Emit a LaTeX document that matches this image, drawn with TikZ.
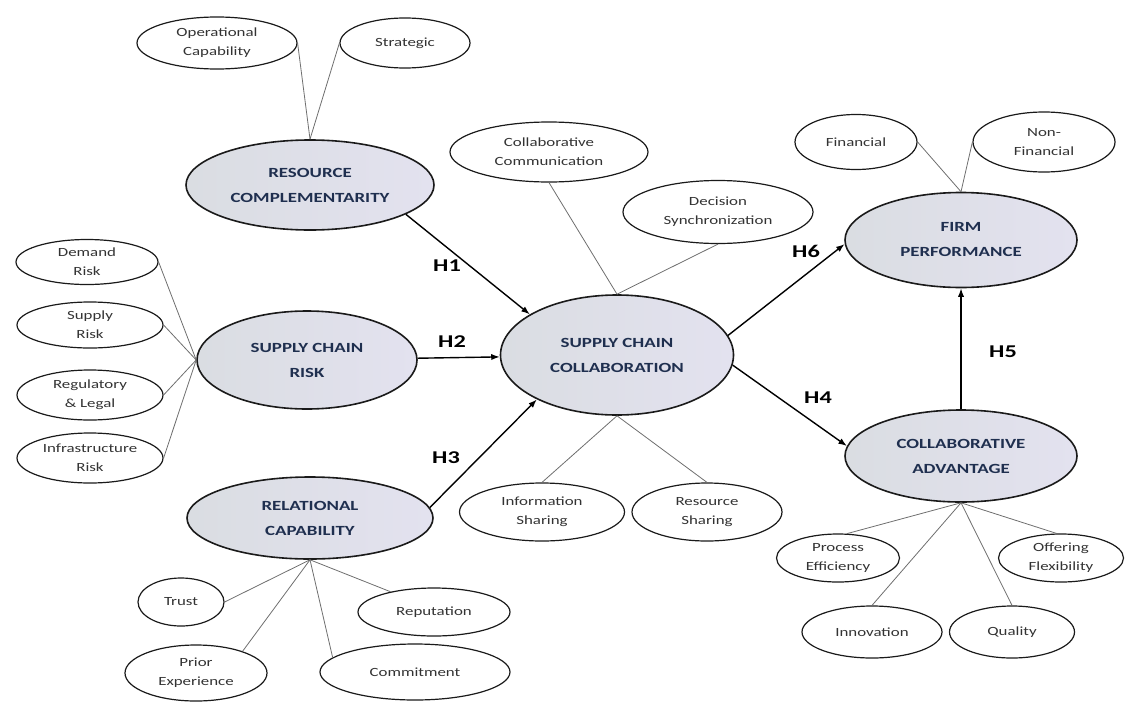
\documentclass[tikz,border=0pt]{standalone}
\usepackage{fontspec}
\setmainfont{Carlito}[FakeStretch=1.35]
\usepackage{tikz}
\usetikzlibrary{shapes.geometric,arrows.meta}
\definecolor{MainFill}{HTML}{DCE6F2}
\definecolor{FillL}{HTML}{D9D9DB}
\definecolor{FillR}{HTML}{E6E0EE}
\definecolor{MainText}{HTML}{1F2F4F}
\definecolor{Rim}{HTML}{1A1A1A}
\definecolor{Leg}{HTML}{6E6E6E}

\begin{document}
\begin{tikzpicture}[x=1pt,y=-1pt,
  main/.style={ellipse,draw=Rim,line width=1.6pt,left color=FillL!70!MainFill,middle color=MainFill,
               right color=FillR!70!MainFill,inner sep=0pt,align=center,
               font=\fontsize{14}{25}\selectfont\bfseries,text=MainText},
  item/.style={ellipse,draw=Rim,line width=1.2pt,fill=white,inner sep=0pt,
               align=center,font=\fontsize{12.5}{19}\selectfont,text=black!80},
  hyp/.style={-{Latex[length=3mm,width=2.2mm]},line width=1.4pt},
  leg/.style={line width=.8pt,draw=Leg},
  hlab/.style={font=\fontsize{18}{18}\selectfont\bfseries}]
\useasboundingbox (0,0) rectangle (1126,704);

% constructs
\node[main,minimum width=248pt,minimum height=90pt]  (rc)   at (310,185) {RESOURCE\\COMPLEMENTARITY};
\node[main,minimum width=220pt,minimum height=98pt]  (risk) at (307,360) {SUPPLY CHAIN\\RISK};
\node[main,minimum width=246pt,minimum height=82pt]  (rel)  at (310,518) {RELATIONAL\\CAPABILITY};
\node[main,minimum width=233pt,minimum height=120pt] (scc)  at (617,355) {SUPPLY CHAIN\\COLLABORATION};
\node[main,minimum width=232pt,minimum height=95pt]  (fp)   at (961,240) {FIRM\\PERFORMANCE};
\node[main,minimum width=232pt,minimum height=92pt]  (ca)   at (961,456) {COLLABORATIVE\\ADVANTAGE};

% indicators
\node[item,minimum width=160pt,minimum height=52pt] (opc)  at (217,43)  {Operational\\Capability};
\node[item,minimum width=130pt,minimum height=50pt] (stra) at (405,43)  {Strategic};
\node[item,minimum width=142pt,minimum height=45pt] (dem)  at (87,262)  {Demand\\Risk};
\node[item,minimum width=146pt,minimum height=46pt] (sup)  at (90,325)  {Supply\\Risk};
\node[item,minimum width=146pt,minimum height=50pt] (reg)  at (90,395)  {Regulatory\\\& Legal};
\node[item,minimum width=146pt,minimum height=50pt] (infr) at (90,458)  {Infrastructure\\Risk};
\node[item,minimum width=86pt,minimum height=48pt]  (tru)  at (181,602) {Trust};
\node[item,minimum width=152pt,minimum height=48pt] (rep)  at (434,612) {Reputation};
\node[item,minimum width=142pt,minimum height=56pt] (prx)  at (196,673) {Prior\\Experience};
\node[item,minimum width=190pt,minimum height=56pt] (cmt)  at (415,672) {Commitment};
\node[item,minimum width=198pt,minimum height=60pt] (ccom) at (549,152) {Collaborative\\Communication};
\node[item,minimum width=190pt,minimum height=63pt] (dsyn) at (718,212) {Decision\\Synchronization};
\node[item,minimum width=165pt,minimum height=58pt] (ish)  at (542,512) {Information\\Sharing};
\node[item,minimum width=150pt,minimum height=58pt] (rsh)  at (707,512) {Resource\\Sharing};
\node[item,minimum width=122pt,minimum height=55pt] (fin)  at (856,142) {Financial};
\node[item,minimum width=142pt,minimum height=60pt] (nfin) at (1044,142) {Non-\\Financial};
\node[item,minimum width=123pt,minimum height=48pt] (pef)  at (838,558) {Process\\Efficiency};
\node[item,minimum width=125pt,minimum height=48pt] (ofx)  at (1061,558) {Offering\\Flexibility};
\node[item,minimum width=140pt,minimum height=52pt] (inn)  at (872,632) {Innovation};
\node[item,minimum width=125pt,minimum height=52pt] (qua)  at (1012,632) {Quality};

% indicator links
\foreach \a/\b in {opc.east/rc.north,stra.west/rc.north,
                   dem.east/risk.west,sup.east/risk.west,reg.east/risk.west,infr.east/risk.west,
                   rel.south/tru.east,rel.south/prx.25,rel.south/cmt.170,rel.south/rep.155,
                   ccom.south/scc.north,dsyn.south/scc.north,
                   scc.south/ish.north,scc.south/rsh.north,
                   fin.east/fp.north,nfin.west/fp.north,
                   ca.south/pef.70,ca.south/ofx.100,ca.south/inn.north,ca.south/qua.north}
  \draw[leg] (\a) -- (\b);

% hypotheses
\draw[hyp] (rc.-17) -- (scc.155);
\draw[hyp] (risk) -- (scc);
\draw[hyp] (rel.5) -- (scc.209);
\draw[hyp] (scc.10) -- (fp.182);
\draw[hyp] (scc.-5) -- (ca.175);
\draw[hyp] (ca.north) -- (fp.south);

\node[hlab] (h1) at (447,266)  {H1};
\node[hlab] (h2) at (452,342)  {H2};
\node[hlab] (h3) at (446,458)  {H3};
\node[hlab] (h6) at (806,251)  {H6};
\node[hlab] (h4) at (818,398)  {H4};
\node[hlab] (h5) at (1003,352) {H5};

\end{tikzpicture}
\end{document}
